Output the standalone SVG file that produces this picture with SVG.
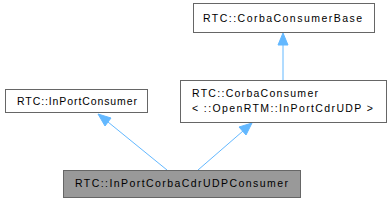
<svg xmlns="http://www.w3.org/2000/svg" width="392" height="203" viewBox="0 0 392 203">
<defs>
<style>
.box{fill:#fff;stroke:#666;stroke-width:1}
.cur{fill:#999;stroke:#666;stroke-width:1}
text{font-family:"Liberation Sans",Arial,sans-serif;font-size:10.5px;fill:#000}
.edge{stroke:#63b8ff;stroke-width:1;fill:none}
.head{fill:#63b8ff;stroke:#63b8ff;stroke-width:1}
</style>
</defs>
<g id="edges">
<path class="edge" d="M283,80 L283,45"/>
<polygon class="head" points="283,33 288,45 278,45"/>
<path class="edge" d="M167,170 L108,122"/>
<polygon class="head" points="98,114 111,118 105,126"/>
<path class="edge" d="M198,170 L243,131"/>
<polygon class="head" points="252,123 246,135 239,127"/>
</g>
<g id="node_base">
<rect class="box" x="193.5" y="3.5" width="181" height="29"/>
<text x="203" y="22" textLength="159" lengthAdjust="spacing">RTC::CorbaConsumerBase</text>
</g>
<g id="node_inport">
<rect class="box" x="5.5" y="89.5" width="142" height="23"/>
<text x="17" y="105" textLength="120" lengthAdjust="spacing">RTC::InPortConsumer</text>
</g>
<g id="node_corba">
<rect class="box" x="180.5" y="80.5" width="206" height="42"/>
<text x="192" y="97" textLength="126" lengthAdjust="spacing">RTC::CorbaConsumer</text>
<text x="192" y="112" textLength="181" lengthAdjust="spacing">&lt; ::OpenRTM::InPortCdrUDP &gt;</text>
</g>
<g id="node_current">
<rect class="cur" x="63.5" y="170.5" width="237" height="27"/>
<text x="75" y="187" textLength="213" lengthAdjust="spacing">RTC::InPortCorbaCdrUDPConsumer</text>
</g>
</svg>
